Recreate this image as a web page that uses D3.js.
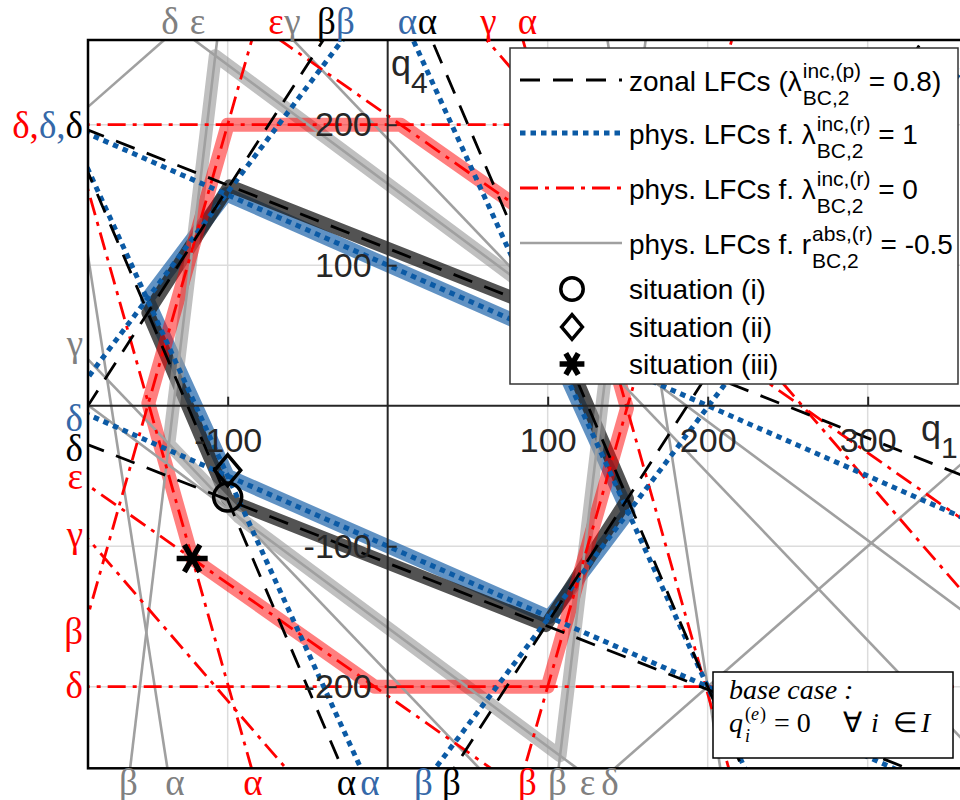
<!DOCTYPE html>
<html>
<head>
<meta charset="utf-8">
<script src="https://cdn.jsdelivr.net/npm/d3@7"></script>
<style>
  body { margin: 0; background: #fff; }
  svg { display: block; }
</style>
</head>
<body>
<svg id="chart" width="960" height="800"></svg>
<script>
// axes: q1 horizontal, q4 vertical
const xDomain = [-187.3, 357.7];
const yDomain = [-258.1, 260.3];
const xTicks = [-100, 100, 200, 300];
const yTicks = [-200, -100, 100, 200];

// each LFC line is q4 + m*q1 = +c and q4 + m*q1 = -c  -> [name, m, c]
const zonalLFC = [["α", 2.67, 334], ["β", -1.77, 331.5], ["δ", 0.45, 112]];
const physLFC1 = [["α", 2.5, 300], ["β", -1.51, 303], ["δ", 0.5, 100]];
const physLFC0 = [["α", 4.03, 601], ["β", -4.0, 600], ["γ", 1.32, 342], ["δ", 0, 200], ["ε", 0.8, 206.5]];
const physLFCr = [["α", 7.35, 1270], ["β", -9.53, 1276], ["γ", 1.19, 190], ["δ", -1, 400], ["ε", 0.846, 158]];

// marked situations [label, q1, q4]
const situations = [["situation (i)", -100, -65], ["situation (ii)", -100, -46], ["situation (iii)", -122.2, -108.7]];

// line names where they leave the plot [text, family, q1 or q4]
const topLabels = [["δ", "gray", -136], ["ε", "gray", -118.9], ["ε", "red", -69.8], ["γ", "gray", -59.5],
  ["β", "black", -38.3], ["β", "blue", -26.4], ["α", "blue", 12.4], ["α", "black", 24.9],
  ["γ", "red", 63], ["α", "red", 87.4]];
const bottomLabels = [["β", "gray", -162], ["α", "gray", -132.9], ["α", "red", -84.2], ["α", "black", -25.8],
  ["α", "blue", -11.1], ["β", "blue", 22.4], ["β", "black", 39.9], ["β", "red", 87.4],
  ["β", "gray", 106.1], ["ε", "gray", 124.9], ["δ", "gray", 138.9]];
const leftLabels = [["γ", "gray", 43.9], ["δ", "blue", -9.5], ["δ", "black", -30.8], ["ε", "red", -50.7],
  ["γ", "red", -92], ["β", "red", -161], ["δ", "red", -199.5]];
const leftStacked = [["δ,", "red"], ["δ,", "blue"], ["δ", "black"]];
const leftStackedAt = 199;

const legendRows = [
  ["zonal LFCs (λ", "inc,(p)", "BC,2", " = 0.8)"],
  ["phys. LFCs f. λ", "inc,(r)", "BC,2", " = 1"],
  ["phys. LFCs f. λ", "inc,(r)", "BC,2", " = 0"],
  ["phys. LFCs f. r", "abs,(r)", "BC,2", " = -0.5"]
];

const labelColor = { red: "#ff0000", blue: "#3568a8", black: "#000000", gray: "#808080" };

const svg = d3.select("#chart");
const x = d3.scaleLinear().domain(xDomain).range([88, 960]);
const y = d3.scaleLinear().domain(yDomain).range([768.3, 40]);

svg.append("defs").append("clipPath").attr("id", "plotclip")
  .append("rect").attr("x", 88).attr("y", 40).attr("width", 872).attr("height", 728.3);

const plot = svg.append("g").attr("clip-path", "url(#plotclip)");

// grid
plot.selectAll(".gx").data(xTicks).join("line")
  .attr("x1", d => x(d)).attr("x2", d => x(d)).attr("y1", 40).attr("y2", 768.3)
  .attr("stroke", "#dcdcdc").attr("stroke-width", 1.5);
plot.selectAll(".gy").data(yTicks).join("line")
  .attr("y1", d => y(d)).attr("y2", d => y(d)).attr("x1", 88).attr("x2", 960)
  .attr("stroke", "#dcdcdc").attr("stroke-width", 1.5);

// feasible region of a set of lines (half-plane clipping)
function feasible(lines) {
  let poly = [[-2000, -2000], [2000, -2000], [2000, 2000], [-2000, 2000]];
  for (const [, m, c] of lines) {
    for (const s of [1, -1]) {
      const f = p => s * (p[1] + m * p[0]) - c;
      const out = [];
      for (let i = 0; i < poly.length; i++) {
        const a = poly[i], b = poly[(i + 1) % poly.length];
        const fa = f(a), fb = f(b);
        if (fa <= 0) out.push(a);
        if ((fa < 0 && fb > 0) || (fa > 0 && fb < 0)) {
          const t = fa / (fa - fb);
          out.push([a[0] + t * (b[0] - a[0]), a[1] + t * (b[1] - a[1])]);
        }
      }
      poly = out;
    }
  }
  return poly;
}

const closed = d3.line().x(d => x(d[0])).y(d => y(d[1])).curve(d3.curveLinearClosed);
const open = d3.line().x(d => x(d[0])).y(d => y(d[1]));

function band(lines, color, width) {
  plot.append("path").attr("d", closed(feasible(lines)))
    .attr("fill", "none").attr("stroke", color).attr("stroke-width", width)
    .attr("stroke-linejoin", "round");
}

band(physLFC1, "rgba(30,100,170,0.7)", 14);
band(zonalLFC, "rgba(25,25,25,0.75)", 13);
band(physLFCr, "rgba(150,150,150,0.6)", 13);
band(physLFC0, "rgba(255,0,0,0.5)", 14);

function family(lines, color, width, dash) {
  const segs = [];
  for (const [, m, c] of lines) {
    for (const s of [1, -1]) {
      segs.push([[-400, s * c + 400 * m], [600, s * c - 600 * m]]);
    }
  }
  plot.append("g").selectAll("path").data(segs).join("path")
    .attr("d", open).attr("fill", "none").attr("stroke", color)
    .attr("stroke-width", width).attr("stroke-dasharray", dash);
}

family(physLFCr, "#a0a0a0", 2.6, null);
family(physLFC0, "#ff0000", 2.8, "18,7,4,7");
family(physLFC1, "#0b5aa5", 5, "5.5,5");
family(zonalLFC, "#000000", 2.8, "20,13");

// axes through the origin
const fontSans = "'Liberation Sans', Arial, Helvetica, sans-serif";
const fontSerif = "'Liberation Serif', 'Times New Roman', serif";

const xAxis = svg.append("g").attr("transform", `translate(0,${y(0)})`)
  .call(d3.axisBottom(x).tickValues(xTicks).tickFormat(d => String(d))
    .tickSizeInner(-9).tickSizeOuter(0).tickPadding(22));
const yAxis = svg.append("g").attr("transform", `translate(${x(0)},0)`)
  .call(d3.axisLeft(y).tickValues(yTicks).tickFormat(d => String(d))
    .tickSizeInner(-9).tickSizeOuter(0).tickPadding(16));
for (const ax of [xAxis, yAxis]) {
  ax.select(".domain").attr("stroke", "#262626").attr("stroke-width", 2);
  ax.selectAll(".tick line").attr("stroke", "#262626").attr("stroke-width", 2);
  ax.selectAll(".tick text").attr("fill", "#262626").style("font-family", fontSans).style("font-size", "34px");
}
xAxis.select(".domain").attr("d", `M88,0H960`);
yAxis.select(".domain").attr("d", `M0,40V768.3`);

// axis names
const q4 = svg.append("text").attr("x", 391).attr("y", 76).attr("fill", "#262626")
  .style("font-family", fontSans).style("font-size", "36px");
q4.append("tspan").text("q");
q4.append("tspan").attr("dy", 17).style("font-size", "30px").text("4");
const q1 = svg.append("text").attr("x", 921).attr("y", 441).attr("fill", "#262626")
  .style("font-family", fontSans).style("font-size", "36px");
q1.append("tspan").text("q");
q1.append("tspan").attr("dy", 17).style("font-size", "30px").text("1");

// plot frame
svg.append("rect").attr("x", 88).attr("y", 40).attr("width", 900).attr("height", 728.3)
  .attr("fill", "none").attr("stroke", "#000").attr("stroke-width", 2.5);

// situation markers
const asterisk = d3.symbol().type(d3.symbolAsterisk);
function marker(g, i, cx, cy, scale) {
  if (i === 0) {
    g.append("circle").attr("cx", cx).attr("cy", cy).attr("r", 14 * scale)
      .attr("fill", "none").attr("stroke", "#000").attr("stroke-width", 3.5);
  } else if (i === 1) {
    const hw = 13 * scale, hh = 15.5 * scale;
    g.append("path").attr("d", `M${cx},${cy - hh}L${cx + hw},${cy}L${cx},${cy + hh}L${cx - hw},${cy}Z`)
      .attr("fill", "none").attr("stroke", "#000").attr("stroke-width", 3.5);
  } else {
    g.append("path").attr("d", asterisk.size(680 * scale * scale)())
      .attr("transform", `translate(${cx},${cy}) rotate(90)`)
      .attr("fill", "none").attr("stroke", "#000").attr("stroke-width", 5.5);
  }
}
situations.forEach((s, i) => marker(svg, i, x(s[1]), y(s[2]), 1));

// border labels
const lab = svg.append("g").style("font-family", fontSerif).style("font-size", "37px");
lab.selectAll(".tl").data(topLabels).join("text")
  .attr("x", d => x(d[2])).attr("y", 34).attr("text-anchor", "middle")
  .attr("fill", d => labelColor[d[1]]).text(d => d[0]);
lab.selectAll(".bl").data(bottomLabels).join("text")
  .attr("x", d => x(d[2])).attr("y", 795).attr("text-anchor", "middle")
  .attr("fill", d => labelColor[d[1]]).text(d => d[0]);
lab.selectAll(".ll").data(leftLabels).join("text")
  .attr("x", 83).attr("y", d => y(d[2]) + 12).attr("text-anchor", "end")
  .attr("fill", d => labelColor[d[1]]).text(d => d[0]);
const stacked = lab.append("text").attr("x", 83).attr("y", y(leftStackedAt) + 12).attr("text-anchor", "end");
stacked.selectAll("tspan").data(leftStacked).join("tspan")
  .attr("fill", d => labelColor[d[1]]).text(d => d[0]);

// legend
const leg = svg.append("g");
leg.append("rect").attr("x", 510).attr("y", 48).attr("width", 448).attr("height", 336)
  .attr("fill", "#fff").attr("stroke", "#333").attr("stroke-width", 1.5);
const rowY = [80, 133, 188, 243];
const rowStyle = [
  ["#000000", 2.8, "20,13"],
  ["#0b5aa5", 5, "5.5,5"],
  ["#ff0000", 2.8, "18,7,4,7"],
  ["#a0a0a0", 2.6, null]
];
legendRows.forEach((r, i) => {
  const ly = rowY[i];
  leg.append("line").attr("x1", 520).attr("x2", 622).attr("y1", ly).attr("y2", ly)
    .attr("stroke", rowStyle[i][0]).attr("stroke-width", rowStyle[i][1]).attr("stroke-dasharray", rowStyle[i][2]);
  const base = ly + 11;
  const main = leg.append("text").attr("x", 629).attr("y", base)
    .style("font-family", fontSans).style("font-size", "28px").text(r[0]);
  const mx = 629 + main.node().getComputedTextLength() + 1;
  const sup = leg.append("text").attr("x", mx).attr("y", base - 13)
    .style("font-family", fontSans).style("font-size", "21px").text(r[1]);
  const sub = leg.append("text").attr("x", mx).attr("y", base + 14)
    .style("font-family", fontSans).style("font-size", "21px").text(r[2]);
  const tx = mx + Math.max(sup.node().getComputedTextLength(), sub.node().getComputedTextLength());
  leg.append("text").attr("x", tx).attr("y", base).attr("xml:space", "preserve")
    .style("font-family", fontSans).style("font-size", "28px").style("white-space", "pre").text(r[3]);
});
const markY = [289, 327, 364];
situations.forEach((s, i) => {
  marker(leg, i, 572, markY[i], 0.8);
  leg.append("text").attr("x", 629).attr("y", markY[i] + 10)
    .style("font-family", fontSans).style("font-size", "28px").text(s[0]);
});

// base case note
const note = svg.append("g").style("font-family", fontSerif).style("font-style", "italic");
note.append("rect").attr("x", 713).attr("y", 672).attr("width", 240).attr("height", 86)
  .attr("fill", "#fff").attr("stroke", "#000").attr("stroke-width", 1.5);
note.append("text").attr("x", 729).attr("y", 699).style("font-size", "28px").text("base case :");
const noteParts = [
  ["q", 729, 732, 28, "italic"],
  ["(", 745, 720, 18, "normal"],
  ["e", 751, 720, 18, "italic"],
  [")", 760, 720, 18, "normal"],
  ["i", 745, 742, 18, "italic"],
  ["= 0", 774, 732, 28, "normal"],
  ["∀", 843, 732, 28, "normal"],
  ["i", 871, 732, 28, "italic"],
  ["∈", 893, 732, 28, "normal"],
  ["I", 921, 732, 28, "italic"]
];
note.selectAll(".np").data(noteParts).join("text")
  .attr("x", d => d[1]).attr("y", d => d[2]).style("font-size", d => d[3] + "px")
  .style("font-style", d => d[4]).text(d => d[0]);
</script>
</body>
</html>
